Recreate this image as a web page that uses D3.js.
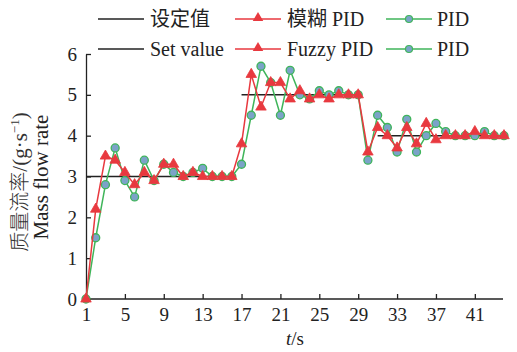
<!DOCTYPE html>
<html><head><meta charset="utf-8">
<script src="https://cdn.jsdelivr.net/npm/d3@7"></script>
<style>html,body{margin:0;padding:0;background:#fff;}</style>
</head><body><svg id="c" width="517" height="352"></svg>
<script>
const times = d3.range(1, 45);
const fuzzyPID = [0, 2.2, 3.5, 3.4, 3.1, 2.8, 3.1, 2.9, 3.3, 3.3, 3.0, 3.1, 3.0, 3.0, 3.0, 3.0, 3.8, 5.5, 4.7, 5.3, 5.3, 4.9, 5.1, 4.9, 5.0, 4.9, 5.0, 5.0, 5.0, 3.6, 4.2, 4.0, 3.7, 4.2, 3.8, 4.3, 3.9, 4.0, 4.0, 4.0, 4.1, 4.0, 4.0, 4.0];
const pid = [0, 1.5, 2.8, 3.7, 2.9, 2.5, 3.4, 2.9, 3.3, 3.1, 3.0, 3.1, 3.2, 3.0, 3.0, 3.0, 3.3, 4.5, 5.7, 5.3, 4.5, 5.6, 5.0, 4.9, 5.1, 5.0, 5.1, 5.0, 5.0, 3.4, 4.5, 4.2, 3.6, 4.4, 3.6, 4.0, 4.3, 4.1, 4.0, 4.0, 4.0, 4.1, 4.0, 4.0];
const setStart = [1, 17, 31];
const setEnd = [16, 29, 44];
const setValue = [3, 5, 4];
const xTicks = [1, 5, 9, 13, 17, 21, 25, 29, 33, 37, 41];
const yTicks = [0, 1, 2, 3, 4, 5, 6];
const legendCN = ["设定值", "模糊 PID", "PID"];
const legendEN = ["Set value", "Fuzzy PID", "PID"];

const RED = "#e8393f", GREEN = "#3fb55a", BLUE = "#7ba3c8", BLACK = "#222";
const serif = "'Liberation Serif','DejaVu Serif',serif";
const cjk = "'Liberation Serif','Noto Sans CJK SC',serif";

const svg = d3.select("#c");
const x = d3.scaleLinear().domain([1, 44]).range([86, 504]);
const y = d3.scaleLinear().domain([0, 6]).range([299, 54]);

// axes
const xAxis = svg.append("g").attr("transform", "translate(0,299)")
  .call(d3.axisBottom(x).tickValues(xTicks).tickFormat(d3.format("d")).tickSizeInner(-5).tickSizeOuter(0).tickPadding(9));
const yAxis = svg.append("g").attr("transform", "translate(86,0)")
  .call(d3.axisLeft(y).tickValues(yTicks).tickFormat(d3.format("d")).tickSizeInner(-5).tickSizeOuter(0).tickPadding(9));
[xAxis, yAxis].forEach(g => {
  g.select(".domain").attr("stroke", BLACK).attr("stroke-width", 1.3);
  g.selectAll(".tick line").attr("stroke", BLACK).attr("stroke-width", 1.3);
  g.selectAll(".tick text").attr("font-family", serif).attr("font-size", 19).attr("fill", "#222");
});
xAxis.select(".domain").attr("d", "M86,0H503");

// set value segments
svg.append("g").selectAll("line").data(setValue).join("line")
  .attr("x1", (d, i) => x(setStart[i])).attr("x2", (d, i) => x(setEnd[i]))
  .attr("y1", d => y(d)).attr("y2", d => y(d))
  .attr("stroke", BLACK).attr("stroke-width", 1.5);

const line = d3.line().x((d, i) => x(times[i])).y(d => y(d));
const tri = d3.symbol().type(d3.symbolTriangle).size(48);

// PID (green)
svg.append("path").datum(pid).attr("d", line).attr("fill", "none").attr("stroke", GREEN).attr("stroke-width", 1.5);
svg.append("g").selectAll("circle").data(pid).join("circle")
  .attr("cx", (d, i) => x(times[i])).attr("cy", d => y(d)).attr("r", 4)
  .attr("fill", BLUE).attr("stroke", GREEN).attr("stroke-width", 1.3);

// Fuzzy PID (red)
svg.append("path").datum(fuzzyPID).attr("d", line).attr("fill", "none").attr("stroke", RED).attr("stroke-width", 1.5);
svg.append("g").selectAll("path").data(fuzzyPID).join("path")
  .attr("d", tri).attr("transform", (d, i) => `translate(${x(times[i])},${y(d)})`)
  .attr("fill", RED).attr("stroke", RED).attr("stroke-width", 0.8);

// legend
const legX = [98, 235, 386];
const legText = [150, 287, 437];
const rows = [{y: 19, labels: legendCN, font: cjk}, {y: 49, labels: legendEN, font: serif}];
rows.forEach(r => {
  r.labels.forEach((lab, i) => {
    const col = i === 0 ? BLACK : (i === 1 ? RED : GREEN);
    svg.append("line").attr("x1", legX[i]).attr("x2", legX[i] + 46).attr("y1", r.y).attr("y2", r.y)
      .attr("stroke", col).attr("stroke-width", 1.5);
    if (i === 1) svg.append("path").attr("d", tri).attr("transform", `translate(${legX[i] + 23},${r.y - 1})`).attr("fill", RED);
    if (i === 2) svg.append("circle").attr("cx", legX[i] + 23).attr("cy", r.y).attr("r", 3.5).attr("fill", BLUE).attr("stroke", GREEN).attr("stroke-width", 1.2);
    svg.append("text").attr("x", legText[i]).attr("y", r.y).attr("dy", "0.35em")
      .attr("font-family", r.font).attr("font-size", 20).attr("fill", "#222").text(lab);
  });
});

// axis titles
const yt = svg.append("text").attr("transform", "translate(27,182) rotate(-90)")
  .attr("text-anchor", "middle").attr("font-size", 21).attr("fill", "#333");
yt.append("tspan").attr("font-family", "'Noto Sans CJK SC',sans-serif").attr("font-size", 20).attr("font-weight", 300).text("质量流率");
yt.append("tspan").attr("font-family", serif).text("/(g·s");
yt.append("tspan").attr("font-family", serif).attr("font-size", 13).attr("dy", -8).text("−1");
yt.append("tspan").attr("font-family", serif).attr("dy", 8).text(")");
svg.append("text").attr("transform", "translate(48,177) rotate(-90)")
  .attr("text-anchor", "middle").attr("font-family", serif).attr("font-size", 21).attr("fill", "#222").text("Mass flow rate");

const xt = svg.append("text").attr("x", 295).attr("y", 345).attr("text-anchor", "middle")
  .attr("font-family", serif).attr("font-size", 19).attr("fill", "#222");
xt.append("tspan").attr("font-style", "italic").text("t");
xt.append("tspan").text("/s");
</script></body></html>
